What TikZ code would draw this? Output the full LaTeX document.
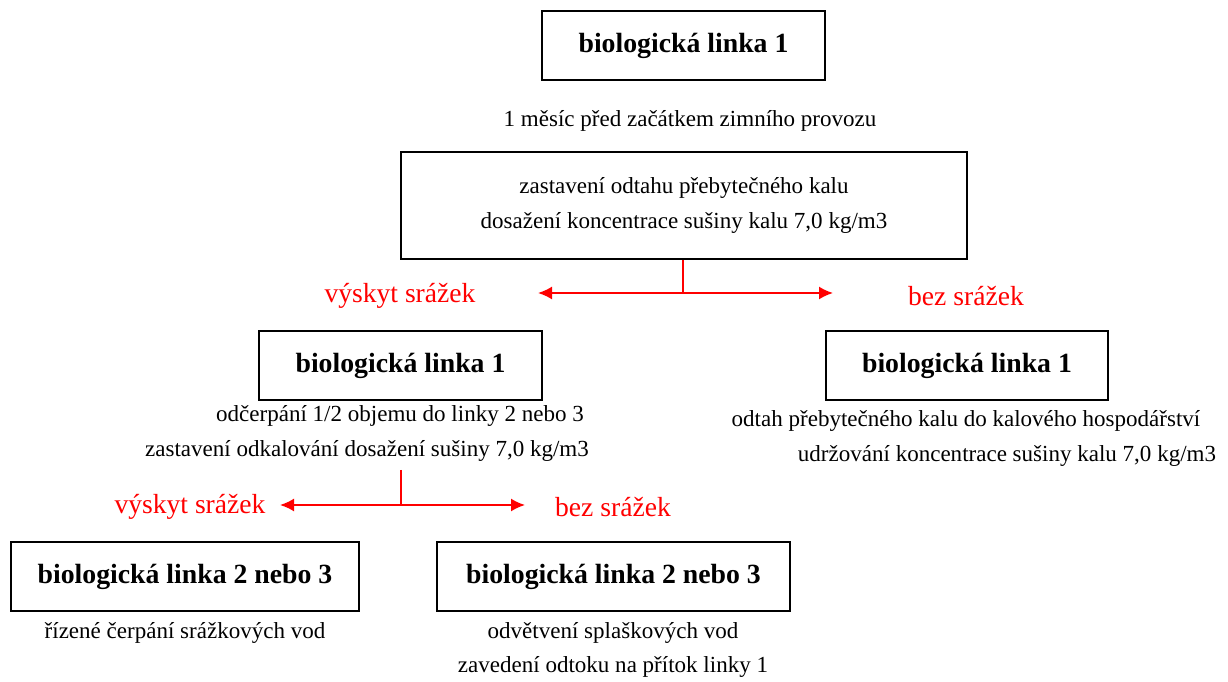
\documentclass[tikz,border=0pt]{standalone}
\usepackage{fontspec}
\setmainfont{Liberation Serif}
\usetikzlibrary{arrows.meta,positioning,calc}
\usepackage{xcolor}
\definecolor{dark}{HTML}{000000}
\definecolor{srazky}{HTML}{FF0000}
\tikzset{
  box/.style={draw=dark, line width=1pt, align=center, fill=white, minimum height=13.8mm, inner sep=2mm, font=\fontsize{15.8}{19}\selectfont\bfseries},
  textbox/.style={draw=dark, line width=1pt, align=center, fill=white, font=\fontsize{13.1}{19.4}\selectfont},
  note/.style={inner sep=0pt, font=\fontsize{13.1}{16}\selectfont},
  rednote/.style={inner sep=0pt, text=srazky, font=\fontsize{15.7}{19}\selectfont},
  redline/.style={draw=srazky, line width=1pt},
  arrow/.style={-{Latex[length=2.8mm,width=2.6mm]}, line width=1pt, draw=srazky}
}
\begin{document}
\begin{tikzpicture}
  \useasboundingbox (0,0) rectangle (24.56,13.62);
  % horni cast
  \node[box, minimum width=5.66cm] (linka1) at (13.67,12.71) {biologická linka 1};
  \node[note] (mesic) at (13.8,11.2) {1 měsíc před začátkem zimního provozu};
  \node[textbox, minimum width=11.32cm, minimum height=21.4mm] (zastaveni) at (13.68,9.51) {zastavení odtahu přebytečného kalu\\dosažení koncentrace sušiny kalu 7,0 kg/m3};
  \coordinate (split1) at (13.66,7.76);
  \coordinate (vlevo1) at (10.76,7.76);
  \coordinate (vpravo1) at (16.66,7.76);
  \draw[redline] (zastaveni.south -| split1) -- (split1);
  \draw[arrow] (split1) -- (vlevo1);
  \draw[arrow] (split1) -- (vpravo1);
  \node[rednote] (vyskyt1) at (8.0,7.7) {výskyt srážek};
  \node[rednote] (bez1) at (19.32,7.7) {bez srážek};
  % druha uroven
  \node[box, minimum width=5.66cm] (linkaL) at (8.01,6.31) {biologická linka 1};
  \node[box, minimum width=5.64cm] (linkaR) at (19.34,6.31) {biologická linka 1};
  \node[note] (odcerpani) at (8.0,5.3) {odčerpání 1/2 objemu do linky 2 nebo 3};
  \node[note] (odkalovani) at (7.34,4.6) {zastavení odkalování dosažení sušiny 7,0 kg/m3};
  \node[note] (odtah) at (19.32,5.2) {odtah přebytečného kalu do kalového hospodářství};
  \node[note] (udrzovani) at (20.14,4.5) {udržování koncentrace sušiny kalu 7,0 kg/m3};
  \coordinate (start2) at (8.02,4.22);
  \coordinate (split2) at (8.02,3.52);
  \coordinate (vlevo2) at (5.6,3.52);
  \coordinate (vpravo2) at (10.5,3.52);
  \draw[redline] (start2) -- (split2);
  \draw[arrow] (split2) -- (vlevo2);
  \draw[arrow] (split2) -- (vpravo2);
  \node[rednote] (vyskyt2) at (3.8,3.48) {výskyt srážek};
  \node[rednote] (bez2) at (12.26,3.48) {bez srážek};
  % spodni uroven
  \node[box, minimum width=6.96cm] (linka23L) at (3.7,2.09) {biologická linka 2 nebo 3};
  \node[box, minimum width=7.06cm] (linka23R) at (12.27,2.09) {biologická linka 2 nebo 3};
  \node[note] (rizene) at (3.7,0.96) {řízené čerpání srážkových vod};
  \node[note] (odvetveni) at (12.26,0.96) {odvětvení splaškových vod};
  \node[note] (zavedeni) at (12.26,0.28) {zavedení odtoku na přítok linky 1};
\end{tikzpicture}
\end{document}
